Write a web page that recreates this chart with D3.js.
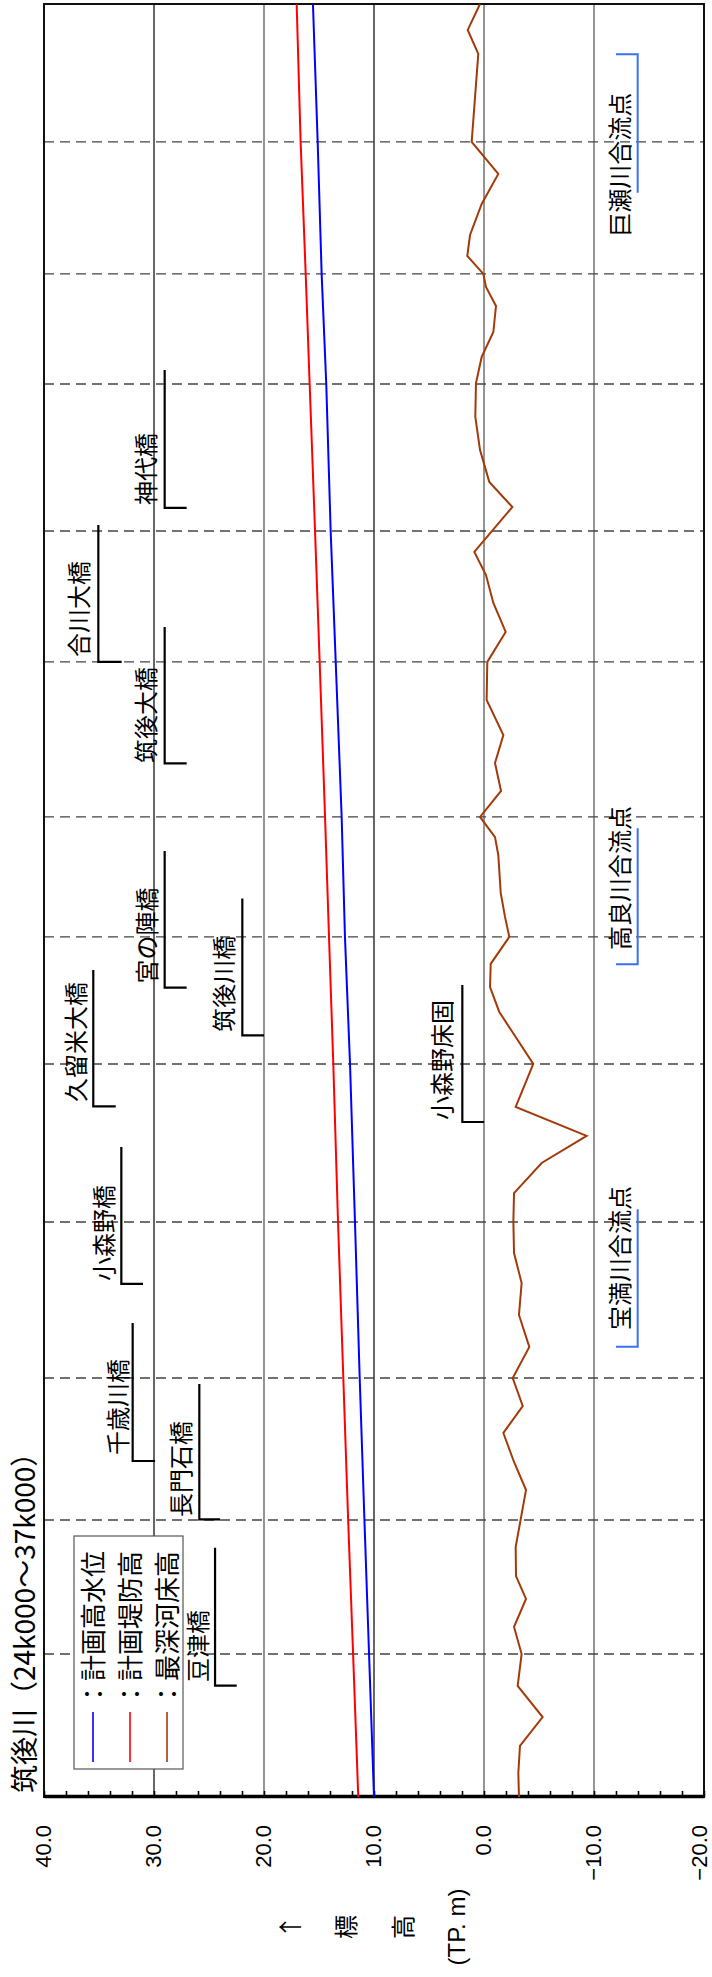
<!DOCTYPE html>
<html><head><meta charset="utf-8">
<script src="https://cdn.jsdelivr.net/npm/d3@7"></script>
<style>body{margin:0;background:#fff}svg{display:block}</style>
</head><body>
<svg id="c" width="712" height="1977"></svg>
<script>
// ---------- data ----------
const titleText = "筑後川（24k000～37k000）";
const postLabels = ["24k","25k","26k","27k","28k","29k","30k","31k","32k","33k","34k","35k","36k","37k"];
const postDist = [24.000,25.037,26.008,27.038,28.169,29.315,30.236,31.106,32.230,33.179,34.245,35.043,36.000,37.000];
const hwl   = [10.00,10.45,10.87,11.30,11.73,12.18,12.64,12.94,13.48,13.94,14.34,14.76,15.12,15.55]; // 計画高水位
const levee = [11.43,11.90,12.35,12.79,13.27,13.70,14.09,14.45,14.94,15.36,15.85,16.21,16.67,17.03]; // 計画堤防高
const bedDist = [24.000,24.174,24.370,24.580,24.805,25.037,25.233,25.436,25.602,25.813,26.226,26.429,26.639,26.835,27.038,27.263,27.495,27.727,27.944,28.169,28.379,28.597,28.793,29.003,29.315,29.692,29.873,30.040,30.236,30.381,30.555,30.830,30.960,31.106,31.294,31.497,31.700,31.954,32.230,32.447,32.657,32.860,33.027,33.353,33.535,33.766,34.006,34.252,34.441,34.622,34.811,34.949,35.043,35.173,35.325,35.550,35.768,36.000,36.638,36.812,37.000];
const bedElev = [-3.18,-3.12,-3.27,-5.33,-3.06,-3.42,-2.73,-3.82,-2.91,-2.88,-3.82,-2.73,-1.76,-3.52,-2.61,-4.12,-3.18,-3.42,-2.73,-2.67,-2.73,-5.24,-9.33,-2.88,-4.48,-1.39,-0.55,-0.61,-2.30,-1.91,-1.52,-1.30,-1.00,0.36,-1.55,-1.00,-1.76,-0.24,-0.30,-1.97,-0.85,-0.18,0.88,-2.58,-0.48,0.36,0.79,0.73,0.21,-0.85,-1.09,-0.18,0.06,1.52,1.27,0.21,-1.30,1.12,0.52,1.48,0.36]; // 最深河床高
const yTicks = [40,30,20,10,0,-10,-20];
const seriesNames = ["：計画高水位","：計画堤防高","：最深河床高"];
const seriesColors = ["#0000ff","#ff0000","#a33a0a"];
const axisTitle = ["↑","標","高","(TP. m)"];

const bridgeNames = ["豆津橋","長門石橋","千歳川橋","小森野橋","久留米大橋","筑後川橋","宮の陣橋","小森野床固","筑後大橋","合川大橋","神代橋"];
const bridgeElev  = [24.45,25.88,31.94,32.97,35.52,21.97,29.03,1.97,29.03,35.06,29.03];
const bridgeStart = [24.807,26.013,26.436,27.720,29.007,29.522,29.868,28.894,31.494,32.230,33.346];
const bridgeEnd   = [25.808,26.994,27.437,28.713,29.996,30.515,30.859,29.887,32.483,33.223,34.347];
const bridgeTick  = [22.48,24.00,29.90,31.00,33.48,20.00,27.03,0.00,27.03,32.94,27.03];
const bridgeLabElev = [26.18,27.64,33.45,34.70,37.21,23.79,30.75,3.94,30.82,36.97,30.85];
const bridgeLabDist = [24.834,26.030,26.480,27.741,29.039,29.549,29.898,28.909,31.497,32.266,33.368];

const confNames = ["宝満川合流点","高良川合流点","巨瀬川合流点"];
const confElev  = [-13.97,-13.97,-13.97];
const confStart = [27.265,30.038,35.632];
const confEnd   = [28.261,31.024,36.636];
const confTickAtEnd = [false,false,true];
const confTick  = [-12.0,-12.0,-12.0];
const confLabElev = [-12.21,-12.21,-12.21];
const confLabDist = [27.386,30.141,35.313];

// ---------- chart ----------
const W = 712, H = 1977;
const svg = d3.select("#c");
const g = svg.append("g").attr("transform", `translate(0,${H}) rotate(-90)`);
const x = d3.scaleLinear().domain([24, 37]).range([180, 1973]);
const y = d3.scaleLinear().domain([40, -20]).range([44, 704]);
const CJK = "'Noto Sans CJK JP','Noto Sans',sans-serif";
const LAT = "'Liberation Sans',Arial,'Noto Sans CJK JP',sans-serif";

// gridlines
g.append("g").selectAll("line").data(yTicks.filter(t => t < 40 && t > -20)).join("line")
  .attr("x1", x(24)).attr("x2", x(37)).attr("y1", d => y(d)).attr("y2", d => y(d))
  .attr("stroke", d => (d === 30 || d === 10) ? "#000" : "#7a7a7a")
  .attr("stroke-width", d => (d === 30 || d === 10) ? 1.2 : 1.6);

// km post dashed lines
g.append("g").selectAll("line").data(postDist.slice(1, -1)).join("line")
  .attr("x1", d => x(d)).attr("x2", d => x(d)).attr("y1", y(40)).attr("y2", y(-20))
  .attr("stroke", "#444").attr("stroke-width", 1.4).attr("stroke-dasharray", "10,6");

// frame
g.append("rect").attr("x", x(24)).attr("y", y(40)).attr("width", x(37) - x(24)).attr("height", y(-20) - y(40))
  .attr("fill", "none").attr("stroke", "#111").attr("stroke-width", 2);

// elevation axis
const ax = d3.axisLeft(y).tickValues(d3.range(-20, 41, 2)).tickSize(-6).tickSizeOuter(0).tickPadding(28)
  .tickFormat(d => d % 10 === 0 ? d3.format(".1f")(d) : "");
const axG = g.append("g").attr("transform", `translate(${x(24)},0)`).call(ax);
axG.select(".domain").attr("stroke", "#000").attr("stroke-width", 3.5);
axG.selectAll(".tick line").attr("stroke", "#000").attr("stroke-width", 1.6);
axG.selectAll(".tick text").attr("font-family", LAT).attr("font-size", 22).attr("fill", "#000")
  .attr("dy", d => d === -20 ? "0.1em" : "0.3em");

// axis title
g.append("g").selectAll("text").data(axisTitle).join("text")
  .attr("x", 50).attr("y", (d, i) => [288, 344, 401, 456][i])
  .attr("text-anchor", "middle").attr("dominant-baseline", "central")
  .attr("font-family", (d, i) => i === 3 ? LAT : CJK).attr("font-size", 24)
  .text(d => d);

// title
g.append("text").attr("x", 184).attr("y", 23).attr("dominant-baseline", "central")
  .attr("font-family", CJK).attr("font-size", 28).text(titleText);

// legend
const lg = g.append("g");
lg.append("rect").attr("x", 208).attr("y", 74).attr("width", 233).attr("height", 109)
  .attr("fill", "#fff").attr("stroke", "#555").attr("stroke-width", 1.2);
const legV = [93, 130, 167];
seriesNames.forEach((n, i) => {
  lg.append("line").attr("x1", 215).attr("x2", 265).attr("y1", legV[i]).attr("y2", legV[i])
    .attr("stroke", seriesColors[i]).attr("stroke-width", 1.6);
  lg.append("text").attr("x", 270).attr("y", legV[i] - 1.5).attr("dominant-baseline", "central")
    .attr("font-family", CJK).attr("font-size", 26).text(n);
});

// series lines
const line = d3.line().x(d => x(d[0])).y(d => y(d[1]));
g.append("path").datum(postDist.map((d, i) => [d, levee[i]])).attr("d", line)
  .attr("fill", "none").attr("stroke", seriesColors[1]).attr("stroke-width", 2);
g.append("path").datum(postDist.map((d, i) => [d, hwl[i]])).attr("d", line)
  .attr("fill", "none").attr("stroke", seriesColors[0]).attr("stroke-width", 2);
g.append("path").datum(bedDist.map((d, i) => [d, bedElev[i]])).attr("d", line)
  .attr("fill", "none").attr("stroke", seriesColors[2]).attr("stroke-width", 2).attr("stroke-linejoin", "miter");

// bridges
const bg = g.append("g");
bridgeNames.forEach((n, i) => {
  const p = d3.path();
  p.moveTo(x(bridgeStart[i]), y(bridgeTick[i]));
  p.lineTo(x(bridgeStart[i]), y(bridgeElev[i]));
  p.lineTo(x(bridgeEnd[i]), y(bridgeElev[i]));
  bg.append("path").attr("d", p.toString()).attr("fill", "none").attr("stroke", "#000").attr("stroke-width", 2.2);
  bg.append("text").attr("x", x(bridgeLabDist[i])).attr("y", y(bridgeLabElev[i]))
    .attr("dominant-baseline", "central").attr("font-family", CJK).attr("font-size", 24).text(n);
});

// confluences
const cg = g.append("g");
confNames.forEach((n, i) => {
  const p = d3.path();
  const tAt = confTickAtEnd[i] ? confEnd[i] : confStart[i];
  const other = confTickAtEnd[i] ? confStart[i] : confEnd[i];
  p.moveTo(x(tAt), y(confTick[i]));
  p.lineTo(x(tAt), y(confElev[i]));
  p.lineTo(x(other), y(confElev[i]));
  cg.append("path").attr("d", p.toString()).attr("fill", "none").attr("stroke", "#3b6ff5").attr("stroke-width", 2);
  cg.append("text").attr("x", x(confLabDist[i])).attr("y", y(confLabElev[i]))
    .attr("dominant-baseline", "central").attr("font-family", CJK).attr("font-size", 24).text(n);
});
</script>
</body></html>
